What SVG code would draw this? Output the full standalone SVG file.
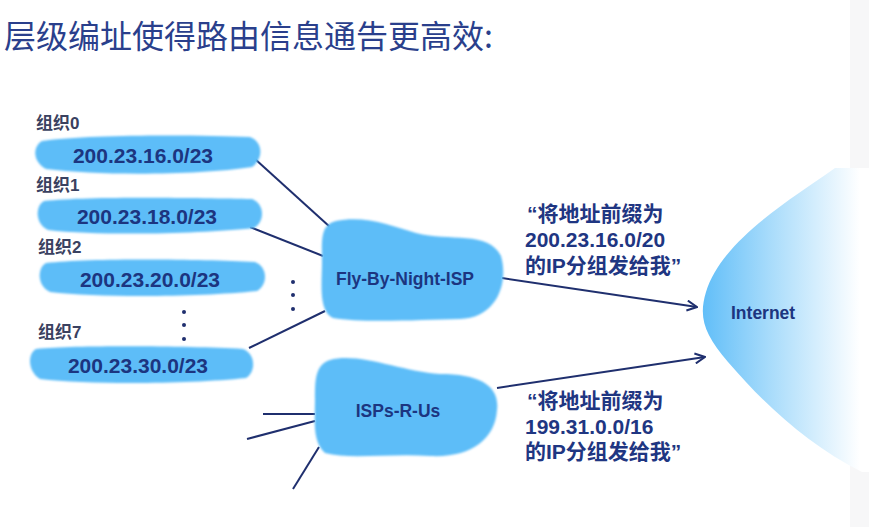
<svg xmlns="http://www.w3.org/2000/svg" width="869" height="527" viewBox="0 0 869 527">
  <defs>
    <style>
      .title { font-family: "Noto Sans CJK SC", "Liberation Sans", sans-serif; font-size: 32px; fill: #2a3f8c; }
      .org { font-family: "Liberation Sans", "Noto Sans CJK SC", sans-serif; font-size: 17px; font-weight: bold; fill: #3a4160; }
      .addr { font-family: "Liberation Sans", "Noto Sans CJK SC", sans-serif; font-size: 21px; font-weight: bold; fill: #1c3580; }
      .isp { font-family: "Liberation Sans", sans-serif; font-size: 17.5px; font-weight: bold; fill: #1c3580; }
      .quote { font-family: "Liberation Sans", "Noto Sans CJK SC", sans-serif; font-size: 21px; font-weight: bold; fill: #1f3682; }
      .blob { fill: #5dbdf8; filter: url(#soft); }
      .link { stroke: #1f2f6e; stroke-width: 2; fill: none; }
      .dot { fill: #1f2f6e; }
    </style>
    <filter id="soft" x="-5%" y="-10%" width="110%" height="120%">
      <feGaussianBlur stdDeviation="0.8"/>
    </filter>
    <linearGradient id="cloud" x1="698" y1="0" x2="860" y2="0" gradientUnits="userSpaceOnUse">
      <stop offset="0" stop-color="#5cbcf8"/>
      <stop offset="0.45" stop-color="#a9dcfb"/>
      <stop offset="1" stop-color="#ffffff"/>
    </linearGradient>
    <marker id="arrow" viewBox="0 0 12 12" refX="11" refY="6" markerWidth="12" markerHeight="12" markerUnits="userSpaceOnUse" orient="auto">
      <path d="M1,1 L11,6 L1,11" fill="none" stroke="#1f2f6e" stroke-width="2"/>
    </marker>
  </defs>

  <rect width="869" height="527" fill="#ffffff"/>
  <rect x="850" y="0" width="19" height="527" fill="#f7f7f8"/>

  <text class="title" x="4" y="48">层级编址使得路由信息通告更高效:</text>

  <!-- Internet cloud -->
  <g id="internet">
    <path d="M835,168 C790,200 722,240 706,292 C698,318 705,335 728,362 C765,405 808,445 862,472 L869,472 L869,168 Z" fill="url(#cloud)"/>
    <text class="isp" x="731" y="319">Internet</text>
  </g>

  <!-- connectors -->
  <g id="connectors">
    <line class="link" x1="255" y1="159" x2="330" y2="227"/>
    <line class="link" x1="250" y1="227" x2="323" y2="256"/>
    <line class="link" x1="249" y1="348" x2="325" y2="311"/>
    <line class="link" x1="502" y1="278" x2="697" y2="307" marker-end="url(#arrow)"/>
    <line class="link" x1="497" y1="388" x2="705" y2="357" marker-end="url(#arrow)"/>
    <line class="link" x1="263" y1="414" x2="315" y2="414"/>
    <line class="link" x1="247" y1="439" x2="315" y2="421"/>
    <line class="link" x1="293" y1="489" x2="319" y2="447"/>
  </g>

  <!-- organisations -->
  <g id="org0">
    <text class="org" x="36" y="129">组织0</text>
    <path class="blob" d="M42,141 C90,134 200,135 250,137 C264,142 263,160 252,167 C200,175 100,176 46,169 C33,162 32,147 42,141 Z"/>
    <text class="addr" x="143" y="163" text-anchor="middle">200.23.16.0/23</text>
  </g>
  <g id="org1">
    <text class="org" x="36" y="191">组织1</text>
    <path class="blob" d="M44,201 C90,196 200,198 252,199 C265,204 265,222 254,228 C200,234 100,236 48,230 C35,224 35,206 44,201 Z"/>
    <text class="addr" x="147" y="224" text-anchor="middle">200.23.18.0/23</text>
  </g>
  <g id="org2">
    <text class="org" x="38" y="253">组织2</text>
    <path class="blob" d="M46,263 C90,258 200,259 255,262 C268,267 268,285 257,291 C200,297 100,298 50,292 C37,286 37,268 46,263 Z"/>
    <text class="addr" x="150" y="287" text-anchor="middle">200.23.20.0/23</text>
  </g>
  <g id="org7">
    <text class="org" x="38" y="338">组织7</text>
    <path class="blob" d="M36,349 C80,345 190,346 243,349 C256,354 256,372 246,378 C190,384 90,385 40,379 C28,372 27,354 36,349 Z"/>
    <text class="addr" x="138" y="373" text-anchor="middle">200.23.30.0/23</text>
  </g>

  <!-- ellipsis dots -->
  <g id="ellipsis">
    <circle class="dot" cx="184" cy="312" r="2"/>
    <circle class="dot" cx="184" cy="325" r="2"/>
    <circle class="dot" cx="184" cy="339" r="2"/>
    <circle class="dot" cx="293" cy="282" r="2"/>
    <circle class="dot" cx="293" cy="295" r="2"/>
    <circle class="dot" cx="293" cy="309" r="2"/>
  </g>

  <!-- ISPs -->
  <g id="fly-by-night-isp">
    <path class="blob" d="M336,221 C365,215 392,226 416,233 C450,242 488,230 501,256 C509,284 496,318 460,319 C420,320 360,323 333,318 C318,311 322,282 322,262 C322,240 320,225 336,221 Z"/>
    <text class="isp" x="405" y="285" text-anchor="middle">Fly-By-Night-ISP</text>
  </g>
  <g id="isps-r-us">
    <path class="blob" d="M330,360 C360,352 402,372 440,374 C480,374 500,386 497,410 C495,440 470,458 430,456 C390,453 350,460 325,453 C312,441 315,420 315,400 C315,380 315,365 330,360 Z"/>
    <text class="isp" x="398" y="417" text-anchor="middle">ISPs-R-Us</text>
  </g>

  <!-- announcements -->
  <g id="announce-fly">
    <text class="quote" x="527" y="221">“将地址前缀为</text>
    <text class="quote" x="525" y="247">200.23.16.0/20</text>
    <text class="quote" x="525" y="273">的IP分组发给我”</text>
  </g>
  <g id="announce-isps">
    <text class="quote" x="527" y="408">“将地址前缀为</text>
    <text class="quote" x="525" y="434">199.31.0.0/16</text>
    <text class="quote" x="525" y="459">的IP分组发给我”</text>
  </g>
</svg>
